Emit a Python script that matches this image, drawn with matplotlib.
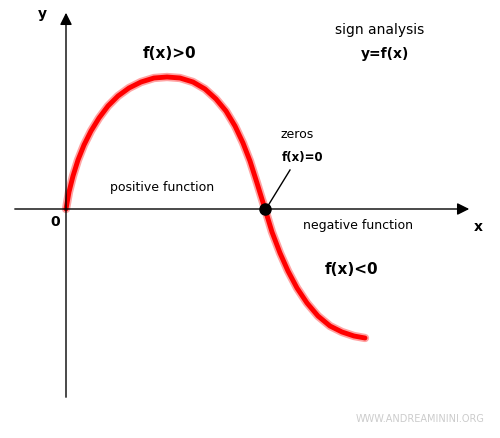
import matplotlib.pyplot as plt

# curve (pixel coords, y down)
cx = [66, 69, 73, 78, 84, 91, 99, 108, 118, 129, 141, 154, 167, 180, 193, 205, 216, 226, 235, 243,
      250, 257, 265, 272, 280, 288, 297, 307, 318, 330, 342, 354, 365]
cy = [209, 192, 176, 160, 145, 131, 118, 106, 96, 88, 82, 78, 77, 78, 82, 89, 99, 111, 126, 143,
      161, 183, 209, 232, 253, 271, 288, 303, 316, 326, 332, 336, 338]

fig = plt.figure(figsize=(5, 4.38), dpi=100)
ax = fig.add_axes([0, 0, 1, 1])
ax.set_xlim(0, 500)
ax.set_ylim(438, 0)
ax.axis('off')

# axes with arrows
ax.annotate('', xy=(472, 209), xytext=(12, 209),
            arrowprops=dict(arrowstyle='-|>', color='black', lw=1, mutation_scale=18))
ax.annotate('', xy=(66, 10), xytext=(66, 400),
            arrowprops=dict(arrowstyle='-|>', color='black', lw=1, mutation_scale=18))

ax.plot(cx, cy, color='#ff6666', lw=6, solid_capstyle='round', solid_joinstyle='round', alpha=0.6)
ax.plot(cx, cy, color='red', lw=3.5, solid_capstyle='round', solid_joinstyle='round')
ax.plot([265], [209], 'o', color='black', ms=8)
ax.plot([266, 290], [209, 170], color='black', lw=1)

b = dict(fontweight='bold', fontsize=10)
ax.text(42, 14, 'y', ha='center', va='center', **b)
ax.text(478, 227, 'x', ha='center', va='center', **b)
ax.text(55, 222, '0', ha='center', va='center', **b)
ax.text(170, 53, 'f(x)>0', ha='center', va='center', fontweight='bold', fontsize=11)
ax.text(380, 30, 'sign analysis', ha='center', va='center', fontsize=10)
ax.text(385, 54, 'y=f(x)', ha='center', va='center', fontweight='bold', fontsize=10)
ax.text(162, 187, 'positive function', ha='center', va='center', fontsize=9)
ax.text(358, 226, 'negative function', ha='center', va='center', fontsize=9)
ax.text(352, 270, 'f(x)<0', ha='center', va='center', fontweight='bold', fontsize=11)
ax.text(297, 135, 'zeros', ha='center', va='center', fontsize=9)
ax.text(303, 157, 'f(x)=0', ha='center', va='center', fontweight='bold', fontsize=8.5)
ax.text(420, 419, 'WWW.ANDREAMININI.ORG', ha='center', va='center', fontsize=7, color='#cccccc')

fig.savefig('out.png', dpi=100)
